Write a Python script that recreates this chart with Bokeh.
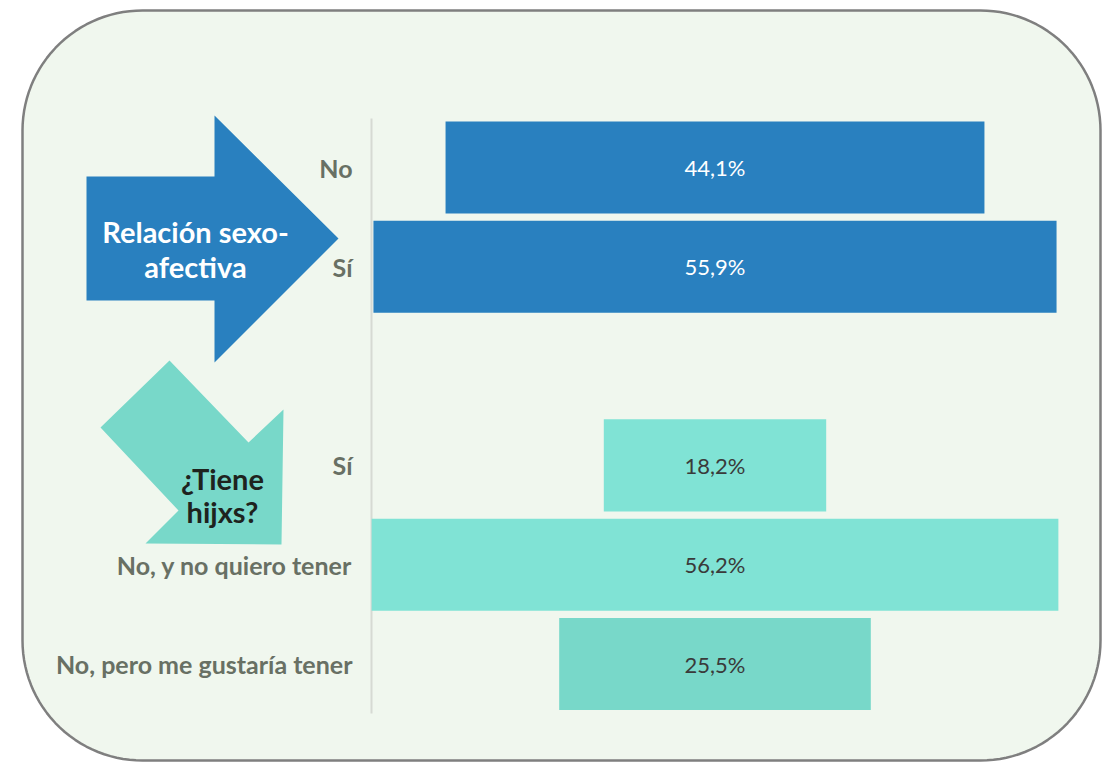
import numpy as np
from bokeh.plotting import figure
from bokeh.models import ColumnDataSource, Range1d
from bokeh.core.properties import value
from bokeh.embed import file_html
from bokeh.resources import INLINE

# ---------------- data ----------------
groups = ["Relación sexo-afectiva", "Relación sexo-afectiva",
          "¿Tiene hijxs?", "¿Tiene hijxs?", "¿Tiene hijxs?"]
categories = ["No", "Sí", "Sí", "No, y no quiero tener", "No, pero me gustaría tener"]
values = [44.1, 55.9, 18.2, 56.2, 25.5]

# ---------------- styles ----------------
bar_colors = ["#2980BF", "#2980BF", "#80E3D5", "#80E3D5", "#78D8C9"]
label_colors = ["#FFFFFF", "#FFFFFF", "#3A3A3A", "#3A3A3A", "#3A3A3A"]
FONT = "Lato"

# layout: rows, with an empty slot between groups
rows = []
r = 0
for i, g in enumerate(groups):
    if i > 0 and g != groups[i - 1]:
        r += 1
    rows.append(r)
    r += 1

W, H = 1104, 762
CX, SX = 714.5, 12.22      # px of x=0, px per %
CY, SY = 167.0, 99.3       # px of row 0, px per row


def X(px):
    return (px - CX) / SX


def Y(py):
    return (py - CY) / SY


p = figure(width=W, height=H, output_backend="svg", toolbar_location=None,
           x_axis_type=None, y_axis_type=None, min_border=0,
           x_range=Range1d(X(0), X(W)), y_range=Range1d(Y(H), Y(0)))
p.outline_line_color = None
p.grid.visible = False
p.background_fill_color = "white"
p.border_fill_color = "white"

# rounded frame
L, R_, T, B, rad = 22, 1100, 10, 760, 120
pts = []
for cx, cy, a0 in [(R_ - rad, T + rad, -90), (R_ - rad, B - rad, 0),
                   (L + rad, B - rad, 90), (L + rad, T + rad, 180)]:
    for a in np.linspace(a0, a0 + 90, 30):
        pts.append((cx + rad * np.cos(np.radians(a)), cy + rad * np.sin(np.radians(a))))
p.patch([X(a) for a, b in pts], [Y(b) for a, b in pts],
        fill_color="#F0F7EE", line_color="#7F7F7F", line_width=2.5)

# blue arrow (right)
ba = [(86, 176), (214, 176), (214, 115), (338, 238), (214, 362), (214, 300), (86, 300)]
p.patch([X(a) for a, b in ba], [Y(b) for a, b in ba], fill_color="#2980BF", line_color=None)
# teal arrow (down-right)
ta = [(169, 360), (248, 442), (283, 409), (281, 544), (145, 543), (178, 510), (100, 427)]
p.patch([X(a) for a, b in ta], [Y(b) for a, b in ta], fill_color="#78D8C9", line_color=None)

p.text(x=[X(195), X(195)], y=[Y(231), Y(266)], text=["Relación sexo-", "afectiva"],
       text_align="center", text_baseline="alphabetic", text_color="white",
       text_font=value(FONT), text_font_style="bold", text_font_size="29px")
p.text(x=[X(222), X(222)], y=[Y(478), Y(511)], text=["¿Tiene", "hijxs?"],
       text_align="center", text_baseline="alphabetic", text_color="#1E231E",
       text_font=value(FONT), text_font_style="bold", text_font_size="29px")

# axis line
p.segment(x0=[X(371)], y0=[Y(118)], x1=[X(371)], y1=[Y(713)],
          line_color="#D6DAD3", line_width=2)

vals = np.array(values)
src = ColumnDataSource(dict(
    y=rows, left=-vals / 2, right=vals / 2, color=bar_colors,
    lab=[f"{v:.1f}".replace(".", ",") + "%" for v in values],
    lcol=label_colors, cat=categories, x0=[0] * len(values),
    xc=[X(352)] * len(values)))

p.hbar(y="y", left="left", right="right", height=0.927, fill_color="color",
       line_color=None, source=src)
p.text(x="x0", y="y", text="lab", text_color="lcol", text_align="center",
       text_baseline="middle", text_font=value(FONT), text_font_size="22px", source=src)
p.text(x="xc", y="y", text="cat", text_color="#687064", text_align="right",
       text_baseline="middle", text_font=value(FONT), text_font_style="bold",
       text_font_size="25px", source=src)

open("out.html", "w").write(file_html(p, INLINE))
